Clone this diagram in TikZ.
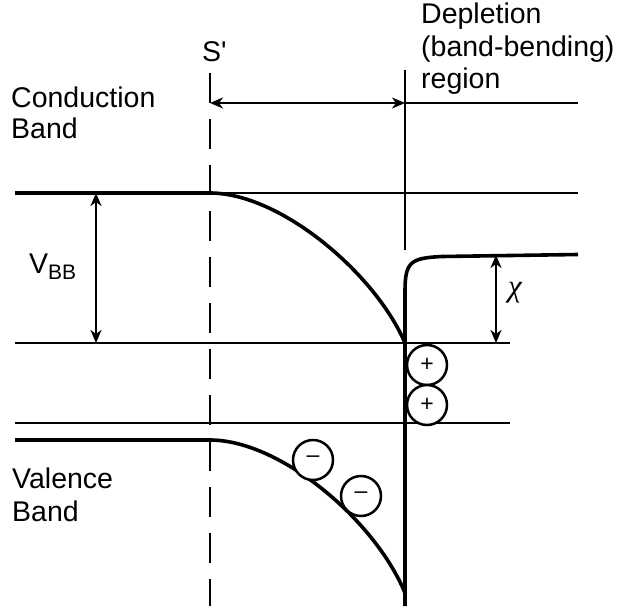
\documentclass[tikz,border=0pt]{standalone}
\usepackage{fontspec}
\setmainfont{Liberation Sans}
\newfontfamily\greekserif{Liberation Serif}
\usetikzlibrary{arrows.meta}
\begin{document}
\begin{tikzpicture}[x=1pt,y=-1pt,
  thinline/.style={line width=2pt},
  thickline/.style={line width=3.6pt},
  dimarrow/.style={line width=2pt,{Stealth[length=13pt,width=11pt,inset=4pt]}-{Stealth[length=13pt,width=11pt,inset=4pt]}},
  lbl/.style={font=\fontsize{28.5}{33}\selectfont, inner sep=0pt, anchor=base west},
  charge/.style={circle, draw, line width=2.5pt, minimum size=40pt, inner sep=0pt, fill=white, font=\fontsize{23}{23}\selectfont}]
\useasboundingbox (0,0) rectangle (631,615);

% coordinates
\coordinate (dashtop) at (210,73);
\coordinate (dashbot) at (210,606);
\coordinate (sprime) at (210,103);
\coordinate (surftop) at (405,70);
\coordinate (surfdim) at (405,103);
\coordinate (surfmid) at (405,250);
\coordinate (regend) at (578,103);
\coordinate (cbleft) at (15,193);
\coordinate (cbbend) at (210,193);
\coordinate (cbright) at (578,193);
\coordinate (cbsurf) at (405,343);
\coordinate (l1left) at (15,343);
\coordinate (l1right) at (510,343);
\coordinate (l2left) at (15,423);
\coordinate (l2right) at (510,423);
\coordinate (vbleft) at (15,440);
\coordinate (vbbend) at (210,440);
\coordinate (vbsurf) at (405,593);
\coordinate (surfbot) at (405,606);
\coordinate (vbbtop) at (96,193);
\coordinate (vbbbot) at (96,343);
\coordinate (chitop) at (496,255);
\coordinate (chibot) at (496,343);

% reference lines
\draw[thinline, dash pattern=on 30pt off 16pt] (dashtop) -- (dashbot);
\draw[thinline] (surftop) -- (surfmid);
\draw[thinline] (surfdim) -- (regend);
\draw[thinline] (cbbend) -- (cbright);
\draw[thinline] (l1left) -- (l1right);
\draw[thinline] (l2left) -- (l2right);

% bands
\draw[thickline] (cbleft) -- (cbbend) .. controls (280,193) and (375,273) .. (cbsurf);
\draw[thickline] (vbleft) -- (vbbend) .. controls (280,440) and (375,520) .. (vbsurf);
\draw[thickline] (surfbot) -- (405,292) .. controls (405,262) and (410,258) .. (442,256.5) -- (578,254.5);

% dimension arrows
\draw[dimarrow] (sprime) -- (surfdim);
\draw[dimarrow] (vbbtop) -- (vbbbot);
\draw[dimarrow] (chitop) -- (chibot);

% charges
\node[charge] (p1) at (427,365) {+};
\node[charge] (p2) at (427,405) {+};
\node[charge] (m1) at (313,460) {\raisebox{1pt}{–}};
\node[charge] (m2) at (361,496) {\raisebox{1pt}{–}};

% labels
\node[lbl] (sp) at (202,62) {S\textquotesingle};
\node[lbl] (dep1) at (421,24) {Depletion};
\node[lbl] (dep2) at (421,57) {(band-bending)};
\node[lbl] (dep3) at (421,89) {region};
\node[lbl] (cb1) at (11,107) {Conduction};
\node[lbl] (cb2) at (11,139) {Band};
\node[lbl] (vb1) at (12,488) {Valence};
\node[lbl] (vb2) at (12,521) {Band};
\node[lbl] (vbb) at (29,273) {V\raisebox{-6pt}{\fontsize{21}{21}\selectfont BB}};
\node[font=\greekserif\itshape\fontsize{31}{31}\selectfont, inner sep=0pt] (chi) at (515,293) {χ};
\end{tikzpicture}
\end{document}
